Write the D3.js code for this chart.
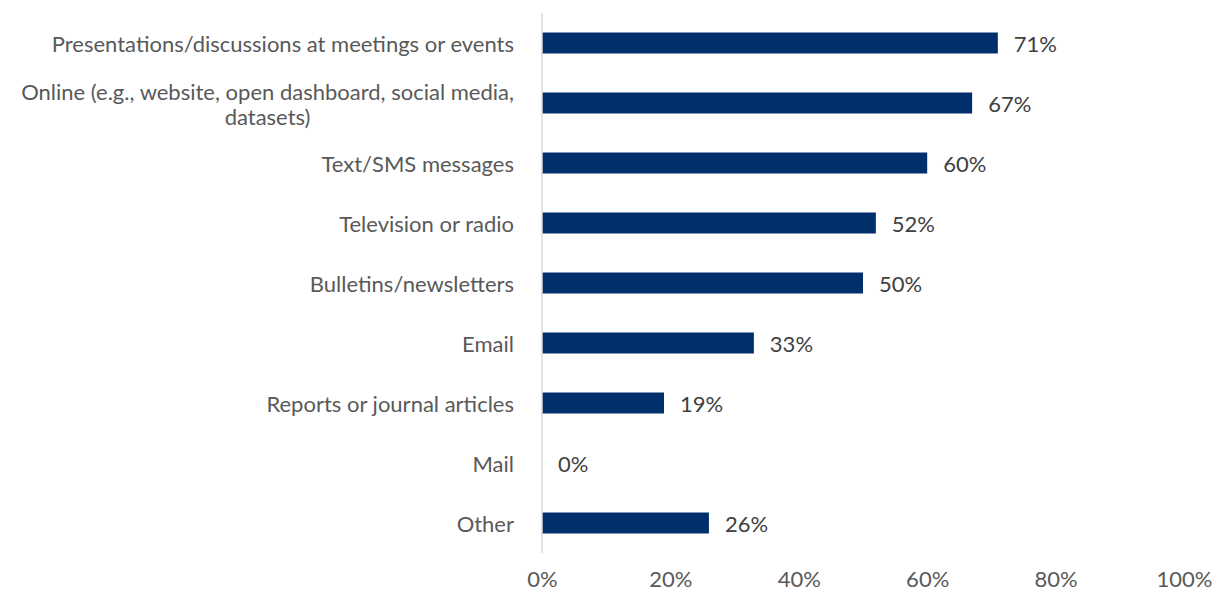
<!DOCTYPE html>
<html>
<head>
<meta charset="utf-8">
<script src="https://cdn.jsdelivr.net/npm/d3@7"></script>
<style>
  html, body { margin: 0; padding: 0; background: #fff; }
  svg { display: block; }
  text { font-family: "Lato", "Open Sans", sans-serif; }
</style>
</head>
<body>
<svg id="chart" width="1215" height="592"></svg>
<script>
// Communication channels and share of respondents using each
const categories = [
  "Presentations/discussions at meetings or events",
  "Online (e.g., website, open dashboard, social media,|datasets)",
  "Text/SMS messages",
  "Television or radio",
  "Bulletins/newsletters",
  "Email",
  "Reports or journal articles",
  "Mail",
  "Other"
];
const values = [71, 67, 60, 52, 50, 33, 19, 0, 26];
const tickValues = [0, 20, 40, 60, 80, 100];

const svg = d3.select("#chart");
const x0 = 542, x1 = 1184, yTop = 13, yBottom = 553;
const fontSize = 22;

const x = d3.scaleLinear().domain([0, 100]).range([x0, x1]);
const y = d3.scaleBand().domain(categories).range([yTop, yBottom]).paddingInner(0.65).paddingOuter(0.325);

// bars
svg.append("g").selectAll("rect")
  .data(values)
  .join("rect")
  .attr("x", x(0))
  .attr("y", (d, i) => y(categories[i]))
  .attr("width", d => x(d) - x(0))
  .attr("height", y.bandwidth())
  .attr("fill", "#002F6C");

// vertical axis line
svg.append("line")
  .attr("x1", x0).attr("x2", x0)
  .attr("y1", yTop).attr("y2", yBottom)
  .attr("stroke", "#d9d9d9").attr("stroke-width", 1.5);

// category labels
const catG = svg.append("g");
categories.forEach((c, i) => {
  const lines = c.split("|");
  const cy = y(c) + y.bandwidth() / 2;
  const lh = 25;
  const t = catG.append("text")
    .attr("font-size", fontSize)
    .attr("fill", "#595959")
    .attr("dominant-baseline", "central");
  if (lines.length === 1) {
    t.attr("x", 514).attr("y", cy).attr("text-anchor", "end").text(c);
  } else {
    t.attr("text-anchor", "end");
    const first = t.append("tspan").attr("x", 514).attr("y", cy - lh / 2).text(lines[0]);
    const w = first.node().getComputedTextLength();
    t.append("tspan").attr("x", 514 - w / 2).attr("y", cy + lh / 2)
      .attr("text-anchor", "middle").text(lines[1]);
  }
});

// value labels
svg.append("g").selectAll("text")
  .data(values)
  .join("text")
  .attr("x", d => x(d) + 16)
  .attr("y", (d, i) => y(categories[i]) + y.bandwidth() / 2)
  .attr("dominant-baseline", "central")
  .attr("font-size", fontSize)
  .attr("fill", "#404040")
  .text(d => d + "%");

// x axis tick labels
const axis = d3.axisBottom(x).tickValues(tickValues).tickFormat(d => d + "%").tickSize(0).tickPadding(0);
const ax = svg.append("g").attr("transform", `translate(0, ${yBottom + 18})`).call(axis);
ax.select(".domain").remove();
ax.selectAll("text")
  .attr("font-size", fontSize)
  .attr("fill", "#595959")
  .attr("font-family", "Lato, 'Open Sans', sans-serif");
</script>
</body>
</html>
